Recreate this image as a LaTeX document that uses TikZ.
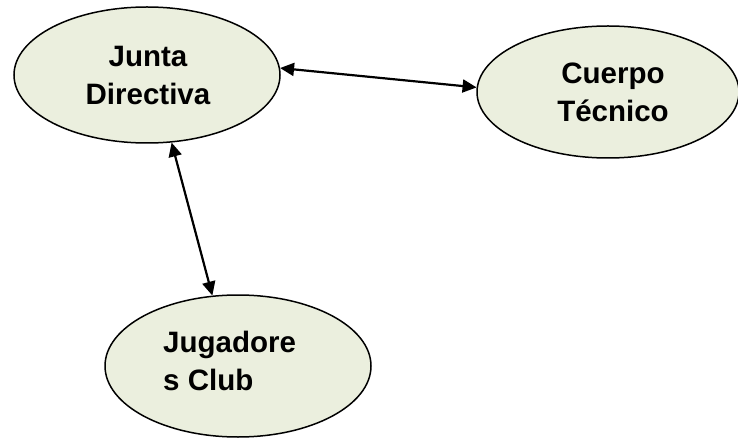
\documentclass[tikz,border=0pt]{standalone}
\usepackage{fontspec}
\setmainfont{Liberation Sans}
\usetikzlibrary{shapes.geometric,arrows.meta}
\definecolor{fillc}{RGB}{235,239,222}
\begin{document}
\begin{tikzpicture}[x=1pt,y=-1pt,
  bubble/.style={ellipse,draw=black,line width=1.5pt,fill=fillc,minimum width=266pt,minimum height=136pt,inner sep=0pt},
  lbl/.style={font=\bfseries\fontsize{29.5}{38}\selectfont,inner sep=0pt},
  link/.style={line width=2.2pt,{Triangle[length=14pt,width=13pt]}-{Triangle[length=14pt,width=13pt]}}]
\path[use as bounding box] (0,0) rectangle (738,438);
\node[bubble] (jd) at (147,75) {};
\node[bubble, minimum width=262pt, minimum height=132pt] (ct) at (608,92) {};
\node[bubble, minimum height=142pt] (jc) at (238,366) {};
\node[lbl,align=center,anchor=base] (jdt) at (148,105) {Junta\\Directiva};
\node[lbl,align=center,anchor=base] (ctt) at (613,122) {Cuerpo\\Técnico};
\node[lbl,align=left,anchor=base west] (jct) at (163,390) {Jugadore\\s Club};
\draw[link] (jd.3) -- (ct.178);
\draw[link] (jd.-70) -- (jc.110);
\end{tikzpicture}
\end{document}
